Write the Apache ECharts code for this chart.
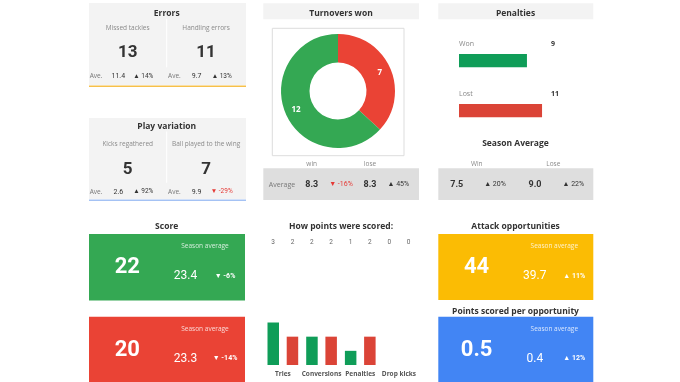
<!DOCTYPE html>
<html><head><meta charset="utf-8">
<script src="https://cdn.jsdelivr.net/npm/echarts@6/dist/echarts.min.js"></script>
<style>html,body{margin:0;padding:0;background:#fff}#c{width:680px;height:382px}</style>
</head><body><div id="c"></div>
<script>
// ---- data ----
const errorLabels = ['Missed tackles', 'Handling errors'];
const errorValues = ['13', '11'];
const errorAverages = ['11.4', '9.7'];
const errorChanges = [14, 13];

const playLabels = ['Kicks regathered', 'Ball played to the wing'];
const playValues = ['5', '7'];
const playAverages = ['2.6', '9.9'];
const playChanges = [92, -29];

const turnoverNames = ['lose', 'win'];
const turnoverValues = [7, 12];
const turnoverAvgLabels = ['win', 'lose'];
const turnoverAverages = ['8.3', '8.3'];
const turnoverChanges = [-16, 45];

const penaltyCategories = ['Won', 'Lost'];
const penaltyValues = [9, 11];
const penaltyAvgLabels = ['Win', 'Lose'];
const penaltyAverages = ['7.5', '9.0'];
const penaltyChanges = [20, 22];

const scoreValues = ['22', '20'];
const scoreAverages = ['23.4', '23.3'];
const scoreChanges = [-6, -14];

const pointCategories = ['Tries', 'Conversions', 'Penalties', 'Drop kicks'];
const pointsWin = [3, 2, 1, 0];
const pointsLose = [2, 2, 2, 0];

const attackValue = '44';
const attackAverage = '39.7';
const attackChange = 11;

const ppoValue = '0.5';
const ppoAverage = '0.4';
const ppoChange = 12;

// ---- styles ----
const FONT = "'Open Sans', Lato, sans-serif";
const NUM = "Roboto, 'Open Sans', sans-serif";
const GREEN = '#34a853', RED = '#ea4335', YELLOW = '#fbbc04', BLUE = '#4285f4';
const BAR_GREEN = '#0f9d58', BAR_RED = '#db4437';
const PANEL = '#f3f3f3', AVGBOX = '#dedede';

function chg(c) { return (c < 0 ? '\u25BC ' : '\u25B2 ') + c + '%'; }

const G = [];
function T(x, y, text, size, color, weight, family, align, opacity) {
  G.push({
    type: 'text', x: x, y: y, silent: true,
    style: {
      text: text, fill: color, fontSize: size, fontWeight: weight || 'normal',
      fontFamily: family || FONT, opacity: opacity == null ? 1 : opacity,
      align: align || 'center', textAlign: align || 'center',
      verticalAlign: 'middle', textVerticalAlign: 'middle'
    }
  });
}
function R(x, y, w, h, fill, stroke) {
  G.push({ type: 'rect', silent: true, shape: { x: x, y: y, width: w, height: h },
    style: { fill: fill, stroke: stroke || null, lineWidth: stroke ? 1 : 0 } });
}
function L(x1, y1, x2, y2, color) {
  G.push({ type: 'line', silent: true, shape: { x1: x1, y1: y1, x2: x2, y2: y2 },
    style: { stroke: color, lineWidth: 1 } });
}

function pair(top, bottom, lineY, lineColor, title, lay, labels, values, avgs, changes) {
  R(89, top, 157, bottom - top, PANEL);
  R(89, lineY, 157, 1.5, lineColor);
  T(166.7, lay.title, title, 8.5, '#333', 'bold');
  L(166.7, lay.title + 5, 166.7, lay.ave - 9, '#fff');
  for (let i = 0; i < 2; i++) {
    const dx = i * 78.4;
    T(127.7 + dx, lay.label, labels[i], 6.5, '#8a8a8a');
    T(127.7 + dx, lay.value, values[i], 17, '#333', 'bold', NUM);
    T(96 + dx, lay.ave, 'Ave.', 6.5, '#777');
    T(118.3 + dx, lay.ave, avgs[i], 7, '#333', 'normal', NUM);
    T(143.3 + dx, lay.ave, chg(changes[i]), 6.5, changes[i] < 0 ? '#e53935' : '#333', 'normal', NUM);
  }
}
pair(3, 85, 85.5, '#f6c04a', 'Errors', { title: 13.8, label: 27.7, value: 52.3, ave: 76.3 },
  errorLabels, errorValues, errorAverages, errorChanges);
pair(118, 199, 199.5, '#a4c2f4', 'Play variation', { title: 126.5, label: 144, value: 169.5, ave: 191.8 },
  playLabels, playValues, playAverages, playChanges);

// Turnovers
R(263.3, 3.3, 155.7, 16, PANEL);
T(341, 13.5, 'Turnovers won', 8.5, '#333', 'bold');
R(272.3, 28.3, 131.7, 127.4, '#fff', '#dddddd');
T(311.7, 164, turnoverAvgLabels[0], 6.5, '#8a8a8a');
T(370, 164, turnoverAvgLabels[1], 6.5, '#8a8a8a');
R(263.3, 168.3, 155.7, 31.7, AVGBOX);
T(282, 184.5, 'Average', 7, '#777');
T(311.7, 184.5, turnoverAverages[0], 9, '#333', 'bold', NUM);
T(341, 184.5, chg(turnoverChanges[0]), 7, turnoverChanges[0] < 0 ? '#e53935' : '#333', 'normal', NUM);
T(370, 184.5, turnoverAverages[1], 9, '#333', 'bold', NUM);
T(398.3, 184.5, chg(turnoverChanges[1]), 7, turnoverChanges[1] < 0 ? '#e53935' : '#333', 'normal', NUM);

// Penalties
R(438.3, 3.3, 155, 16, PANEL);
T(515.5, 13.5, 'Penalties', 8.5, '#333', 'bold');
T(515.5, 143.7, 'Season Average', 8.5, '#333', 'bold');
T(476.7, 163.7, penaltyAvgLabels[0], 6.5, '#8a8a8a');
T(553.3, 163.7, penaltyAvgLabels[1], 6.5, '#8a8a8a');
R(438.3, 168.3, 155, 31.7, AVGBOX);
T(456.7, 184.5, penaltyAverages[0], 9, '#333', 'bold', NUM);
T(495, 184.5, chg(penaltyChanges[0]), 7, '#333', 'normal', NUM);
T(535, 184.5, penaltyAverages[1], 9, '#333', 'bold', NUM);
T(573.3, 184.5, chg(penaltyChanges[1]), 7, '#333', 'normal', NUM);

// Tiles
function tile(x, top, w, h, color, big, avg, change) {
  R(x, top, w, h, color);
  T(x + 38.3, top + 33.6, big, 22, '#fff', 'bold', NUM);
  T(x + 116, top + 12.6, 'Season average', 6.5, '#fff', 'normal', FONT, 'center', 0.8);
  T(x + 96.5, top + 42, avg, 12, '#fff', 'normal', NUM);
  T(x + 136, top + 42, chg(change), 7, '#fff', 'bold', NUM);
}
T(166.7, 226.7, 'Score', 8.5, '#333', 'bold');
tile(89, 234, 156, 66.5, GREEN, scoreValues[0], scoreAverages[0], scoreChanges[0]);
tile(89, 316.7, 156, 70, RED, scoreValues[1], scoreAverages[1], scoreChanges[1]);

T(341, 226.7, 'How points were scored:', 8.5, '#333', 'bold');

T(515.5, 226.7, 'Attack opportunities', 8.5, '#333', 'bold');
tile(438.3, 234, 155, 66, YELLOW, attackValue, attackAverage, attackChange);
T(515.5, 311.7, 'Points scored per opportunity', 8.5, '#333', 'bold');
tile(438.3, 316.7, 155, 70, BLUE, ppoValue, ppoAverage, ppoChange);

// ---- chart ----
const chart = echarts.init(document.getElementById('c'), null, { renderer: 'canvas' });
chart.setOption({
  animation: false,
  backgroundColor: '#fff',
  graphic: { elements: G },
  grid: [
    { left: 459, top: 35.7, width: 90.6, height: 100 },
    { left: 263.5, top: 322.5, width: 154.8, height: 42.5 }
  ],
  xAxis: [
    { gridIndex: 0, type: 'value', min: 0, max: 12, show: false },
    { gridIndex: 1, type: 'category', data: pointCategories,
      axisLine: { show: false }, axisTick: { show: false },
      axisLabel: { fontSize: 6.5, color: '#555', fontWeight: 'bold', fontFamily: FONT, margin: 6, interval: 0 } }
  ],
  yAxis: [
    { gridIndex: 0, type: 'category', data: penaltyCategories, inverse: true, show: false },
    { gridIndex: 1, type: 'value', min: 0, max: 3, show: false }
  ],
  series: [
    {
      type: 'pie', silent: true, center: [338, 91], radius: [28.5, 57], startAngle: 90, clockwise: true,
      data: turnoverNames.map((n, i) => ({ name: n, value: turnoverValues[i], itemStyle: { color: i === 0 ? RED : GREEN } })),
      label: { show: true, position: 'inside', color: '#fff', fontSize: 8, fontWeight: 'bold', fontFamily: FONT, formatter: '{c}' },
      labelLine: { show: false }, itemStyle: { borderWidth: 0 }
    },
    {
      type: 'bar', xAxisIndex: 0, yAxisIndex: 0, silent: true, barWidth: 13.3,
      data: penaltyValues.map((v, i) => ({ value: v, itemStyle: { color: i === 0 ? BAR_GREEN : BAR_RED } })),
      label: {
        show: true, position: [0, -10], align: 'left', verticalAlign: 'middle',
        formatter: p => '{n|' + p.name + '}{v|' + p.value + '}',
        rich: {
          n: { width: 92, fontSize: 7, color: '#888', fontFamily: FONT },
          v: { fontSize: 7, color: '#333', fontWeight: 'bold', fontFamily: FONT }
        }
      }
    },
    {
      type: 'bar', xAxisIndex: 1, yAxisIndex: 1, silent: true, barWidth: 11.5, barGap: '67%',
      data: pointsWin, itemStyle: { color: BAR_GREEN }
    },
    {
      type: 'bar', xAxisIndex: 1, yAxisIndex: 1, silent: true, barWidth: 11.5, barGap: '67%',
      data: pointsLose, itemStyle: { color: BAR_RED }
    },
    {
      type: 'custom', xAxisIndex: 1, yAxisIndex: 1, silent: true, clip: false,
      data: pointCategories.map((c, i) => [i, pointsWin[i], pointsLose[i]]),
      encode: { x: 0, y: 1 },
      renderItem: function (params, api) {
        const x = api.coord([api.value(0), 0])[0];
        const mk = (dx, v) => ({
          type: 'text', x: x + dx, y: 242.7,
          style: { text: String(v), fill: '#666', fontSize: 6.5, fontFamily: NUM,
            align: 'center', textAlign: 'center', verticalAlign: 'middle', textVerticalAlign: 'middle' }
        });
        return { type: 'group', children: [mk(-9.65, api.value(1)), mk(9.65, api.value(2))] };
      }
    }
  ]
});
</script></body></html>
